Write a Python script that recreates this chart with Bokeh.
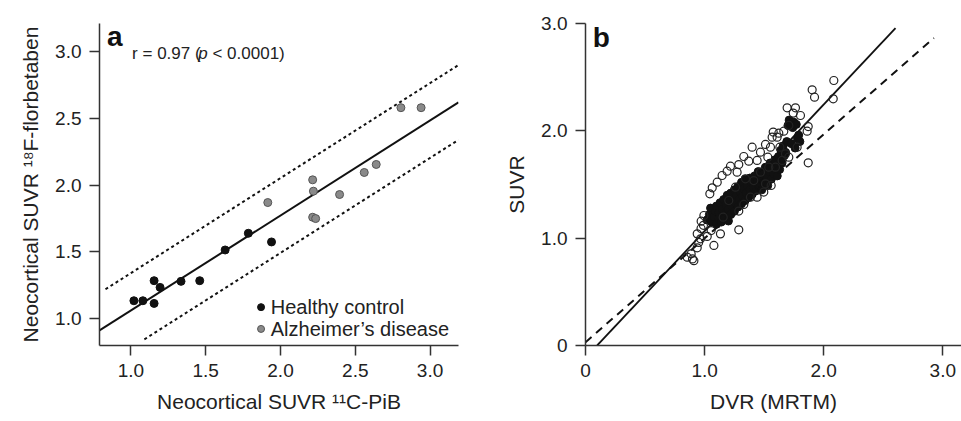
from bokeh.plotting import figure
from bokeh.layouts import row
from bokeh.models import FixedTicker, Label, Range1d, NumeralTickFormatter, CustomJSTickFormatter
from bokeh.embed import file_html
from bokeh.resources import INLINE

FONT = "Liberation Sans"

# ---------------- Panel a data ----------------
hc_x = [1.02, 1.08, 1.155, 1.155, 1.195, 1.335, 1.46, 1.63, 1.785, 1.94]
hc_y = [1.135, 1.135, 1.285, 1.115, 1.235, 1.28, 1.285, 1.515, 1.64, 1.575]
ad_x = [1.915, 2.215, 2.22, 2.215, 2.235, 2.395, 2.56, 2.64, 2.805, 2.94]
ad_y = [1.87, 2.04, 1.955, 1.76, 1.75, 1.93, 2.095, 2.155, 2.58, 2.58]
a_ticks = [1.0, 1.5, 2.0, 2.5, 3.0]
a_fit_slope = 0.711
a_fit_intercept = 0.351
a_band = 0.28
a_fit_x = [0.79, 3.19]
a_upper_x = [0.83, 3.19]
a_lower_x = [1.09, 3.19]

# ---------------- Panel b data ----------------
open_x = [2.085, 2.080, 1.903, 1.923, 1.693, 1.763, 1.744, 1.805, 1.870, 1.861,
          1.777, 1.870, 1.707, 1.665, 1.609, 1.576, 1.567, 1.632, 1.679, 1.707,
          1.399, 1.511, 1.469, 1.531, 1.441, 1.329, 1.371, 1.287, 1.273, 1.217,
          1.189, 1.147, 1.106, 1.064, 1.044, 1.259, 1.343, 1.497, 1.511, 1.559,
          1.441, 1.385, 1.329, 1.287, 0.994, 0.971, 0.938, 0.966, 1.022, 1.055,
          0.854, 0.887, 0.898, 0.938, 1.078, 1.133, 1.287, 1.156, 1.203, 1.413,
          1.469, 1.595, 1.651, 1.553, 1.623, 1.539, 0.970, 0.990, 0.950, 0.910]
open_y = [2.469, 2.298, 2.382, 2.314, 2.214, 2.214, 2.165, 2.143, 2.040, 1.997,
          1.848, 1.702, 2.050, 1.997, 1.941, 1.988, 1.941, 1.848, 1.786, 1.755,
          1.848, 1.873, 1.801, 1.755, 1.724, 1.761, 1.717, 1.686, 1.615, 1.671,
          1.624, 1.584, 1.522, 1.469, 1.413, 1.475, 1.553, 1.429, 1.506, 1.491,
          1.382, 1.382, 1.314, 1.252, 1.211, 1.158, 1.040, 0.994, 1.016, 1.071,
          0.823, 0.854, 0.807, 0.910, 0.932, 1.040, 1.078, 1.196, 1.351, 1.537,
          1.615, 1.661, 1.724, 1.848, 1.978, 1.661, 1.090, 1.120, 0.960, 0.790]
fill_x = [1.02, 1.04, 1.05, 1.06, 1.08, 1.09, 1.10, 1.10, 1.12, 1.12,
          1.13, 1.14, 1.15, 1.15, 1.16, 1.17, 1.18, 1.18, 1.19, 1.20,
          1.20, 1.21, 1.22, 1.22, 1.23, 1.24, 1.25, 1.25, 1.26, 1.27,
          1.28, 1.28, 1.29, 1.30, 1.31, 1.31, 1.32, 1.33, 1.34, 1.34,
          1.35, 1.36, 1.37, 1.38, 1.38, 1.39, 1.40, 1.41, 1.42, 1.43,
          1.44, 1.45, 1.46, 1.47, 1.48, 1.49, 1.50, 1.51, 1.52, 1.53,
          1.54, 1.55, 1.56, 1.57, 1.58, 1.59, 1.60, 1.61, 1.62, 1.63,
          1.64, 1.65, 1.66, 1.67, 1.69, 1.70, 1.71, 1.72, 1.74, 1.75,
          1.77, 1.78, 1.79, 1.80, 1.76, 1.68, 1.73]
fill_y = [1.17, 1.22, 1.28, 1.15, 1.20, 1.25, 1.13, 1.30, 1.18, 1.24,
          1.33, 1.15, 1.21, 1.27, 1.36, 1.19, 1.24, 1.31, 1.40, 1.16,
          1.27, 1.34, 1.22, 1.42, 1.30, 1.37, 1.25, 1.45, 1.33, 1.40,
          1.29, 1.48, 1.36, 1.43, 1.32, 1.52, 1.39, 1.46, 1.35, 1.55,
          1.42, 1.49, 1.38, 1.45, 1.56, 1.52, 1.41, 1.48, 1.58, 1.44,
          1.52, 1.62, 1.48, 1.56, 1.45, 1.60, 1.52, 1.66, 1.57, 1.49,
          1.62, 1.70, 1.55, 1.65, 1.60, 1.73, 1.67, 1.58, 1.76, 1.64,
          1.82, 1.70, 1.86, 1.77, 1.90, 2.05, 2.10, 2.07, 2.03, 2.08,
          2.06, 1.93, 1.96, 1.90, 1.84, 1.80, 1.88]
b_ticks = [0, 1, 2, 3]
b_fit_slope = 1.18
b_fit_intercept = -0.115
b_fit_x = [0.098, 2.603]
b_ref_slope = 0.969
b_ref_intercept = 0.03
b_ref_x = [0.0, 2.925]

AX = "#333333"
TXT = "#222222"


def style(p):
    for ax in (p.xaxis[0], p.yaxis[0]):
        ax.axis_line_color = AX
        ax.axis_line_width = 1.5
        ax.major_tick_line_color = AX
        ax.major_tick_line_width = 1.5
        ax.major_tick_out = 10
        ax.major_tick_in = 0
        ax.minor_tick_line_color = None
        ax.major_label_text_font = FONT
        ax.major_label_text_font_size = "19px"
        ax.major_label_text_color = TXT
        ax.major_label_standoff = 8
        ax.axis_label_text_font = FONT
        ax.axis_label_text_font_size = "21px"
        ax.axis_label_text_font_style = "normal"
        ax.axis_label_text_color = TXT
        ax.axis_label_standoff = 10
    p.grid.visible = False
    p.outline_line_color = None
    p.background_fill_color = "white"
    p.border_fill_color = "white"


def line_pts(xs, slope, intercept, shift=0.0):
    return xs, [slope * x + intercept + shift for x in xs]


# ---------------- Panel a ----------------
pa = figure(frame_width=359, frame_height=322,
            min_border_left=99, min_border_right=22, min_border_top=22, min_border_bottom=77,
            x_range=Range1d(0.79, 3.19), y_range=Range1d(0.8, 3.21),
            output_backend="svg", toolbar_location=None)
style(pa)
pa.xaxis.ticker = FixedTicker(ticks=a_ticks)
pa.yaxis.ticker = FixedTicker(ticks=a_ticks)
pa.xaxis.formatter = NumeralTickFormatter(format="0.0")
pa.yaxis.formatter = NumeralTickFormatter(format="0.0")
pa.xaxis.axis_label = "Neocortical SUVR ¹¹C-PiB"
pa.yaxis.axis_label = "Neocortical SUVR ¹⁸F-florbetaben"

xs, ys = line_pts(a_fit_x, a_fit_slope, a_fit_intercept)
pa.line(xs, ys, line_color="#111111", line_width=2)
xs, ys = line_pts(a_upper_x, a_fit_slope, a_fit_intercept, a_band)
pa.line(xs, ys, line_color="#111111", line_width=2, line_dash="3 3")
xs, ys = line_pts(a_lower_x, a_fit_slope, a_fit_intercept, -a_band)
pa.line(xs, ys, line_color="#111111", line_width=2, line_dash="3 3")

pa.scatter(ad_x, ad_y, size=8, fill_color="#8a8a8a", line_color="#555555", line_width=1)
pa.scatter(hc_x, hc_y, size=8, fill_color="#111111", line_color="#111111", line_width=1)

# legend (manual)
pa.scatter([1.87], [1.087], size=7, fill_color="#111111", line_color="#111111")
pa.scatter([1.87], [0.924], size=7, fill_color="#8a8a8a", line_color="#555555")
pa.add_layout(Label(x=1.935, y=1.087, text="Healthy control", text_font=FONT,
                    text_font_size="20px", text_color=TXT, text_baseline="middle"))
pa.add_layout(Label(x=1.935, y=0.924, text="Alzheimer’s disease", text_font=FONT,
                    text_font_size="20px", text_color=TXT, text_baseline="middle"))

# panel letter and r annotation
pa.add_layout(Label(x=0.84, y=3.113, text="a", text_font=FONT, text_font_size="28px",
                    text_font_style="bold", text_color="#111111", text_baseline="alphabetic"))
pa.add_layout(Label(x=1.008, y=2.985, text="r = 0.97 (", text_font=FONT, text_font_size="17px",
                    text_color=TXT, text_baseline="alphabetic"))
pa.add_layout(Label(x=1.45, y=2.985, text="p", text_font=FONT, text_font_size="17px",
                    text_font_style="italic", text_color=TXT, text_baseline="alphabetic"))
pa.add_layout(Label(x=1.545, y=2.985, text="< 0.0001)", text_font=FONT, text_font_size="17px",
                    text_color=TXT, text_baseline="alphabetic"))

# ---------------- Panel b ----------------
pb = figure(frame_width=376, frame_height=322,
            min_border_left=105, min_border_right=0, min_border_top=23, min_border_bottom=76,
            x_range=Range1d(0, 3.157), y_range=Range1d(0, 3.0),
            output_backend="svg", toolbar_location=None)
style(pb)
pb.xaxis.ticker = FixedTicker(ticks=b_ticks)
pb.yaxis.ticker = FixedTicker(ticks=b_ticks)
pb.xaxis.formatter = CustomJSTickFormatter(code="return tick == 0 ? '0' : tick.toFixed(1);")
pb.yaxis.formatter = CustomJSTickFormatter(code="return tick == 0 ? '0' : tick.toFixed(1);")
pb.xaxis.axis_label = "DVR (MRTM)"
pb.yaxis.axis_label = "SUVR"

xs, ys = line_pts(b_ref_x, b_ref_slope, b_ref_intercept)
pb.line(xs, ys, line_color="#111111", line_width=2, line_dash="8 6")
xs, ys = line_pts(b_fit_x, b_fit_slope, b_fit_intercept)
pb.line(xs, ys, line_color="#111111", line_width=1.8)

pb.scatter(fill_x, fill_y, size=8, fill_color="#111111", line_color="#111111", line_width=1)
pb.scatter(open_x, open_y, size=8, fill_color="white", fill_alpha=0.0,
           line_color="#222222", line_width=1.2)

pb.add_layout(Label(x=0.06, y=2.873, text="b", text_font=FONT, text_font_size="28px",
                    text_font_style="bold", text_color="#111111", text_baseline="alphabetic"))

layout = row(pa, pb)
open("out.html", "w").write(file_html(layout, INLINE))
